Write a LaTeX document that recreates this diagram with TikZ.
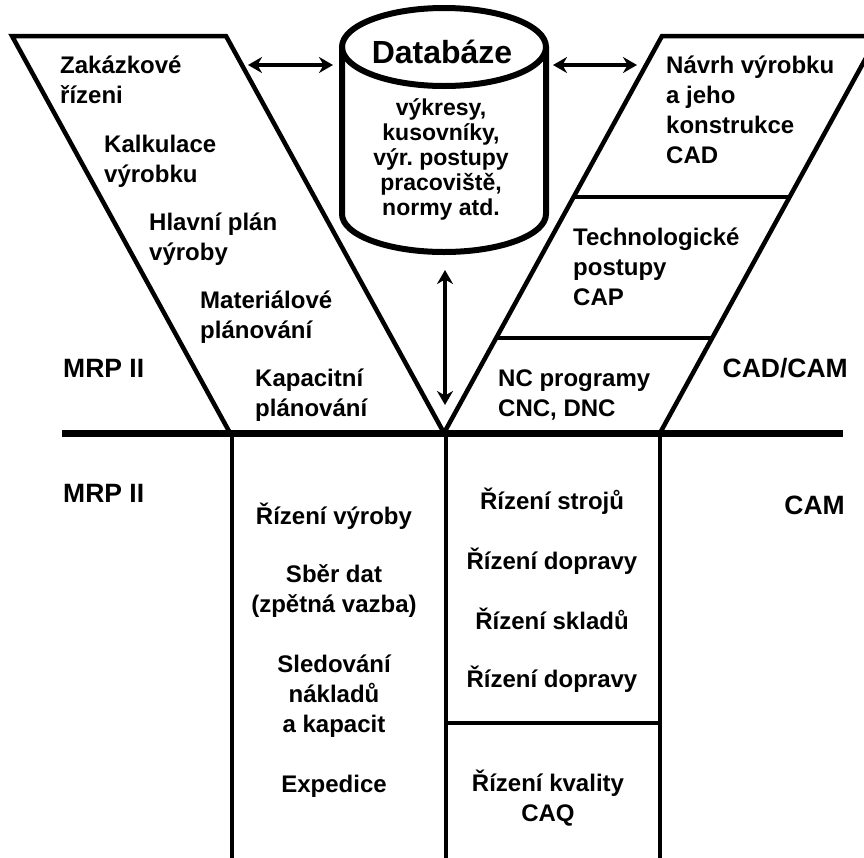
\documentclass[tikz,border=0pt]{standalone}
\usepackage{fontspec}
\setmainfont{Liberation Sans}
\usetikzlibrary{arrows.meta}
\frenchspacing
\begin{document}
\begin{tikzpicture}[x=1pt,y=-1pt,
  txt/.style={font=\fontsize{24}{30}\selectfont\bfseries, inner sep=0pt, align=left, anchor=base west},
  ctxt/.style={font=\fontsize{24}{30}\selectfont\bfseries, inner sep=0pt, align=center, anchor=base},
  dbtxt/.style={font=\fontsize{23}{25}\selectfont\bfseries, inner sep=0pt, align=center, anchor=base},
  dbtitle/.style={font=\fontsize{32}{34}\selectfont\bfseries, inner sep=0pt, anchor=base},
  lbl/.style={font=\fontsize{26.5}{30}\selectfont\bfseries, inner sep=0pt},
  frame/.style={line width=4.5pt, line join=miter},
  mainline/.style={line width=7pt},
  cyl/.style={line width=6pt},
  dbl/.style={line width=4pt, {Stealth[length=14pt,width=16pt]}-{Stealth[length=14pt,width=16pt]}}]
\useasboundingbox (0,0) rectangle (864,857);
\fill[white] (0,0) rectangle (864,857);
\clip (0,0) rectangle (864,857);

% key points
\coordinate (pA) at (12,36);
\coordinate (pB) at (226,36);
\coordinate (V) at (444,433);
\coordinate (pD) at (230,433);
\coordinate (qE) at (662,36);
\coordinate (qF) at (878,36);
\coordinate (qG) at (660,433);
\coordinate (d1a) at (573.6,197);
\coordinate (d1b) at (789.6,197);
\coordinate (d2a) at (496.5,338);
\coordinate (d2b) at (712.5,338);
\coordinate (hl) at (62,433);
\coordinate (hr) at (843,433);
\coordinate (c1t) at (232,433);
\coordinate (c1b) at (232,862);
\coordinate (c2t) at (446,433);
\coordinate (c2b) at (446,862);
\coordinate (c3t) at (660,433);
\coordinate (c3b) at (660,862);
\coordinate (l3a) at (446,723);
\coordinate (l3b) at (660,723);

% upper parallelograms
\draw[frame] (pA) -- (pB) -- (V) -- (pD) -- cycle;
\draw[frame] (V) -- (qE) -- (qF) -- (qG) -- cycle;
\draw[frame] (d1a) -- (d1b);
\draw[frame] (d2a) -- (d2b);

% lower columns
\draw[frame] (c1t) -- (c1b);
\draw[frame] (c2t) -- (c2b);
\draw[frame] (c3t) -- (c3b);
\draw[frame] (l3a) -- (l3b);
\draw[mainline] (hl) -- (hr);

% database cylinder
\coordinate (dbL) at (342,47);
\coordinate (dbR) at (546,47);
\coordinate (dbT) at (444,47);
\filldraw[cyl, fill=white] (dbL) -- (342,214) arc[start angle=180, end angle=360, x radius=102pt, y radius=38pt] -- (dbR);
\draw[cyl] (dbT) ellipse[x radius=102pt, y radius=39pt];

% arrows
\coordinate (al1) at (248,65);
\coordinate (al2) at (333,65);
\coordinate (ar1) at (553,65);
\coordinate (ar2) at (637,65);
\coordinate (av1) at (445,270);
\coordinate (av2) at (445,405);
\draw[dbl] (al1) -- (al2);
\draw[dbl] (ar1) -- (ar2);
\draw[dbl] (av1) -- (av2);

% database text
\node[dbtitle] (dbtitlenode) at (442,63.5) {Databáze};
\node[dbtxt] (dbcont) at (441,215) {výkresy,\\kusovníky,\\výr. postupy\\pracoviště,\\normy atd.};

% left (MRP II) texts (anchor = baseline of last line)
\node[txt] (t1) at (60,103.5) {Zakázkové\\řízeni};
\node[txt] (t2) at (104,182.5) {Kalkulace\\výrobku};
\node[txt] (t3) at (149,260.5) {Hlavní plán\\výroby};
\node[txt] (t4) at (200,338.5) {Materiálové\\plánování};
\node[txt] (t5) at (255,416.5) {Kapacitní\\plánování};
\node[lbl, anchor=base west] (mrp1) at (63,377.5) {MRP II};

% right (CAD/CAM) texts
\node[txt] (r1) at (666,163.5) {Návrh výrobku\\a jeho\\konstrukce\\CAD};
\node[txt] (r2) at (573,305.5) {Technologické\\postupy\\CAP};
\node[txt] (r3) at (498,416.5) {NC programy\\CNC, DNC};
\node[lbl, anchor=base east] (cadcam) at (848,377.5) {CAD/CAM};

% lower texts
\node[lbl, anchor=base west] (mrp2) at (63,502.5) {MRP II};
\node[lbl, anchor=base east] (cam) at (845,514.5) {CAM};
\node[ctxt] (b1) at (334,524) {Řízení výroby};
\node[ctxt] (b2) at (334,612) {Sběr dat\\(zpětná vazba)};
\node[ctxt] (b3) at (334,732) {Sledování\\nákladů\\a kapacit};
\node[ctxt] (b4) at (334,792) {Expedice};
\node[ctxt] (s1) at (552,509) {Řízení strojů};
\node[ctxt] (s2) at (552,569) {Řízení dopravy};
\node[ctxt] (s3) at (552,629) {Řízení skladů};
\node[ctxt] (s4) at (552,687) {Řízení dopravy};
\node[ctxt] (s5) at (548,821) {Řízení kvality\\CAQ};
\end{tikzpicture}
\end{document}
